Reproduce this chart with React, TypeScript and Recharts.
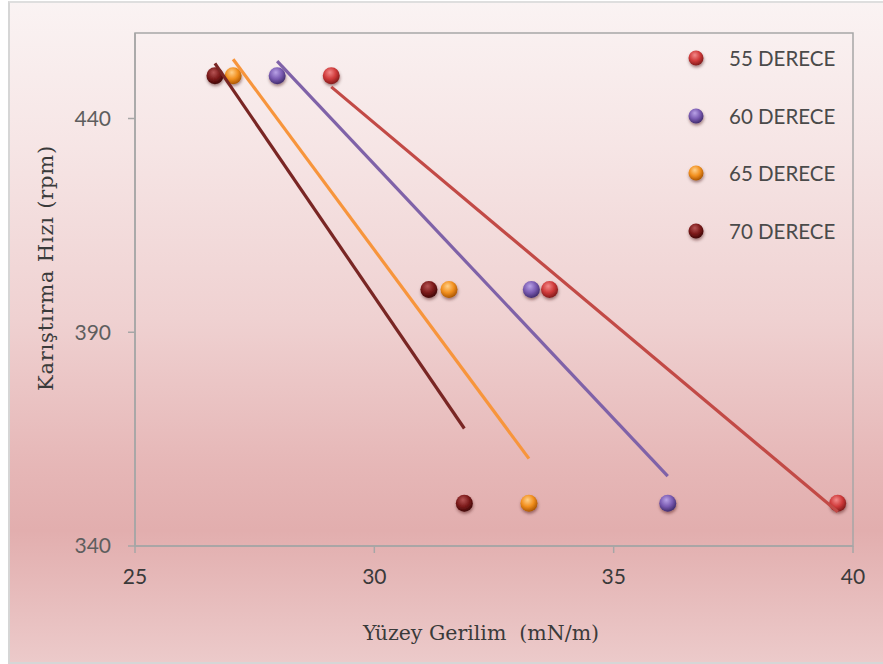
import { ScatterChart, Scatter, XAxis, YAxis, ReferenceArea } from 'recharts'

// mixing speed (rpm) shared by every temperature series
const speeds = [450, 400, 350]

// surface tension (mN/m) measured at each speed
const tension55 = [29.1, 33.66, 39.68]
const tension60 = [27.97, 33.28, 36.13]
const tension65 = [27.05, 31.56, 33.23]
const tension70 = [26.67, 31.14, 31.88]

const seriesNames = ['55 DERECE', '60 DERECE', '65 DERECE', '70 DERECE']

const xTicks = [25, 30, 35, 40]
const yTicks = [340, 390, 440]

const palette = [
  { id: 'ball55', hi: '#f38a8a', base: '#cf3a3a', edge: '#7e1a1a', line: '#c24a46' },
  { id: 'ball60', hi: '#b9a2e6', base: '#7a5bb2', edge: '#3f2a6a', line: '#7f62a8' },
  { id: 'ball65', hi: '#ffd08a', base: '#f2901f', edge: '#a85300', line: '#f7953c' },
  { id: 'ball70', hi: '#b65454', base: '#7c1b1b', edge: '#3e0606', line: '#792624' },
]

const toPoints = (xs: number[]) => xs.map((x, i) => ({ x, y: speeds[i] }))

// least-squares trend line, drawn across the measured x range
function trend(xs: number[]) {
  const n = xs.length
  const mx = xs.reduce((a, b) => a + b, 0) / n
  const my = speeds.reduce((a, b) => a + b, 0) / n
  let sxy = 0
  let sxx = 0
  xs.forEach((x, i) => {
    sxy += (x - mx) * (speeds[i] - my)
    sxx += (x - mx) * (x - mx)
  })
  const slope = sxy / sxx
  const lo = Math.min(...xs)
  const hi = Math.max(...xs)
  return [
    { x: lo, y: my + slope * (lo - mx) },
    { x: hi, y: my + slope * (hi - mx) },
  ]
}

const series = [tension55, tension60, tension65, tension70].map((xs, i) => ({
  name: seriesNames[i],
  points: toPoints(xs),
  fit: trend(xs),
  ...palette[i],
}))

const axisColor = '#a6a6a6'

function Ball(props: any) {
  const { cx, cy, fill } = props
  if (cx == null || cy == null) return <g />
  return <circle cx={cx} cy={cy} r={8.5} fill={fill} filter="url(#ballShadow)" />
}

export default function App() {
  return (
    <div style={{ position: 'absolute', left: 0, top: 0, width: 883, height: 664, background: '#fff', overflow: 'hidden' }}>
      <svg width={0} height={0} style={{ position: 'absolute' }}>
        <defs>
          {palette.map((p) => (
            <radialGradient key={p.id} id={p.id} cx="0.42" cy="0.36" r="0.66" fx="0.42" fy="0.3">
              <stop offset="0" stopColor={p.hi} />
              <stop offset="0.55" stopColor={p.base} />
              <stop offset="1" stopColor={p.edge} />
            </radialGradient>
          ))}
          <filter id="ballShadow" x="-60%" y="-60%" width="220%" height="220%">
            <feDropShadow dx="0.5" dy="2" stdDeviation="1.6" floodColor="#3a1010" floodOpacity="0.45" />
          </filter>
        </defs>
      </svg>

      <div
        style={{
          position: 'absolute',
          left: 8,
          top: 1,
          width: 880,
          height: 659,
          borderLeft: '2px solid #d6d6d6',
          borderTop: '2px solid #dedede',
          borderBottom: '2px solid #d6d6d6',
          background:
            'linear-gradient(to bottom, #faf3f3 0%, #f6e5e5 22%, #efd1d1 48%, #e6b7b7 70%, #e2aeae 80%, #eccaca 100%)',
        }}
      />

      <div style={{ position: 'absolute', left: 0, top: 0 }}>
        <ScatterChart width={883} height={664} margin={{ top: 33, right: 30, bottom: 88, left: 8 }}>
          <XAxis
            type="number"
            dataKey="x"
            domain={[25, 40]}
            ticks={xTicks}
            allowDataOverflow
            height={30}
            tickSize={7}
            tickMargin={16}
            axisLine={{ stroke: axisColor, strokeWidth: 1.5 }}
            tickLine={{ stroke: axisColor, strokeWidth: 1.5 }}
            tick={{ fill: '#3a3a3a', fontSize: 21, fontFamily: 'Lato' }}
          />
          <YAxis
            type="number"
            dataKey="y"
            domain={[340, 460]}
            ticks={yTicks}
            allowDataOverflow
            width={127}
            tickSize={7}
            tickMargin={17}
            axisLine={{ stroke: axisColor, strokeWidth: 1.5 }}
            tickLine={{ stroke: axisColor, strokeWidth: 1.5 }}
            tick={{ fill: '#5e5e5e', fontSize: 21, fontFamily: 'Lato' }}
          />
          <ReferenceArea x1={25} x2={40} y1={340} y2={460} fill="none" stroke={axisColor} strokeWidth={1.5} />
          {series.map((s) => (
            <Scatter
              key={s.id}
              name={s.name}
              data={s.points}
              fill={`url(#${s.id})`}
              shape={<Ball />}
              isAnimationActive={false}
            />
          ))}
          {series.map((s) => (
            <Scatter
              key={s.id + '-fit'}
              data={s.fit}
              line={{ stroke: s.line, strokeWidth: 3.2 }}
              shape={() => <g />}
              legendType="none"
              isAnimationActive={false}
            />
          ))}
        </ScatterChart>
      </div>

      {/* legend */}
      <div style={{ position: 'absolute', left: 684, top: 29, fontFamily: 'Lato', fontSize: 20.5, color: '#4a4a4a' }}>
        {series.map((s) => (
          <div key={s.id} style={{ display: 'flex', alignItems: 'center', height: 57.7 }}>
            <svg width={24} height={24} style={{ overflow: 'visible' }}>
              <circle cx={12} cy={12} r={7.5} fill={`url(#${s.id})`} filter="url(#ballShadow)" />
            </svg>
            <span style={{ marginLeft: 21, whiteSpace: 'nowrap' }}>{s.name}</span>
          </div>
        ))}
      </div>

      {/* axis titles */}
      <div
        style={{
          position: 'absolute',
          left: 481,
          top: 633,
          transform: 'translate(-50%, -50%)',
          fontFamily: 'DejaVu Serif',
          fontSize: 20.5,
          color: '#3a3a3a',
          whiteSpace: 'pre',
        }}
      >
        {'Yüzey Gerilim  (mN/m)'}
      </div>
      <div
        style={{
          position: 'absolute',
          left: 46,
          top: 268,
          transform: 'translate(-50%, -50%) rotate(-90deg)',
          fontFamily: 'DejaVu Serif',
          fontSize: 21,
          letterSpacing: 0.8,
          color: '#3a3a3a',
          whiteSpace: 'pre',
        }}
      >
        Karıştırma Hızı (rpm)
      </div>
    </div>
  )
}
